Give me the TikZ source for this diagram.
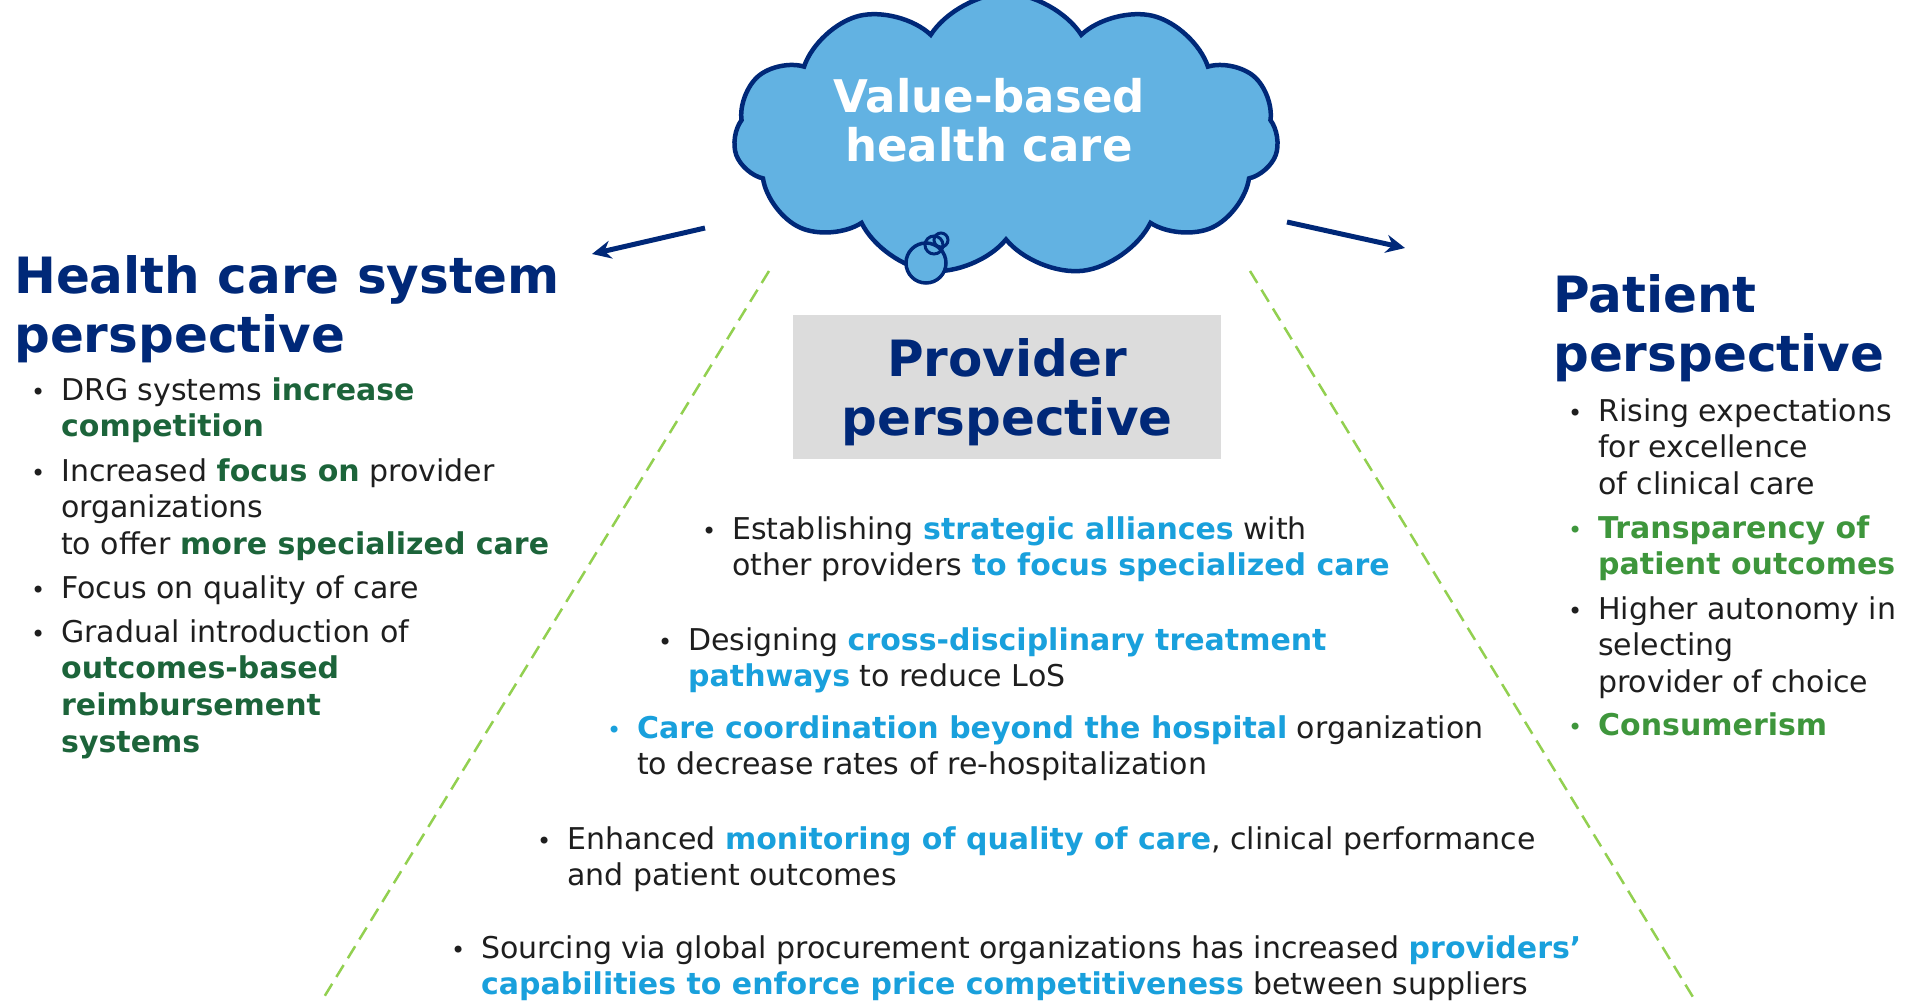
\documentclass[tikz,border=0pt]{standalone}
\usepackage{fontspec}
\setmainfont{DejaVu Sans}
\usetikzlibrary{shapes.symbols,arrows.meta}

\definecolor{navy}{RGB}{0,40,120}
\definecolor{bodytext}{RGB}{30,30,30}
\definecolor{sysgreen}{RGB}{28,100,58}
\definecolor{patgreen}{RGB}{62,150,60}
\definecolor{provblue}{RGB}{25,160,220}
\definecolor{cloudblue}{RGB}{98,178,226}
\definecolor{boxgray}{RGB}{220,220,220}
\definecolor{dashgreen}{RGB}{146,208,80}

\newcommand{\sysbold}[1]{\textcolor{sysgreen}{\textbf{#1}}}
\newcommand{\patbold}[1]{\textcolor{patgreen}{\textbf{#1}}}
\newcommand{\provbold}[1]{\textcolor{provblue}{\textbf{#1}}}
\newcommand{\bitem}[2][bodytext]{\begin{tabular}[t]{@{}p{30pt}@{}l@{}}\textcolor{#1}{\fontsize{24}{24}\selectfont\textbullet}&#2\end{tabular}}
\newcommand{\twoline}[3][l]{\begin{tabular}[t]{@{}#1@{}}#2\\#3\end{tabular}}

\begin{document}
\begin{tikzpicture}[x=1pt, y=-1pt,
    heading/.style={anchor=north west, inner sep=0pt, text=navy, font=\fontsize{50}{59}\selectfont\bfseries},
    bullets/.style={anchor=north west, inner sep=0pt, text=bodytext, font=\fontsize{30}{36.6}\selectfont},
    greendash/.style={dashgreen, line width=2.5pt, dash pattern=on 14pt off 8pt},
    navyarrow/.style={navy, line width=5pt, -{Stealth[length=19pt,width=18pt]}}]

    \useasboundingbox (0,0) rectangle (1913,1002);

    \coordinate (DL0) at (769,271);
    \coordinate (DL1) at (321,1002);
    \coordinate (DR0) at (1250,271);
    \coordinate (DR1) at (1696,1002);

    \coordinate (AL0) at (705,228);
    \coordinate (AL1) at (592,254);
    \coordinate (AR0) at (1287,222);
    \coordinate (AR1) at (1405,248);

    \draw[greendash] (DL0) -- (DL1);
    \draw[greendash] (DR0) -- (DR1);

    \draw[navyarrow] (AL0) -- (AL1);
    \draw[navyarrow] (AR0) -- (AR1);

    % value-based cloud
    \node[cloud, cloud puffs=11, cloud puff arc=115, cloud ignores aspect,
          minimum width=545pt, minimum height=283pt, inner sep=0pt,
          draw=navy, line width=4.5pt, fill=cloudblue] (valueCloud) at (1006,135) {};
    \draw[navy, line width=3.5pt, fill=cloudblue] (926,263) circle (20);
    \draw[navy, line width=3pt] (934,245) circle (9);
    \draw[navy, line width=3pt] (941,240) circle (7);
    \node[anchor=north, inner sep=0pt, text=white, font=\fontsize{45}{48}\selectfont\bfseries]
        (valueText) at (989,78.4) {\twoline[c]{Value-based}{health care}};

    % health care system
    \node[heading] (sysHead) at (14,251.7) {\twoline{Health care system}{perspective}};
    \node[bullets] (sysDrg) at (31,374.4) {\bitem{DRG systems \sysbold{increase}\\ & \sysbold{competition}}};
    \node[bullets] (sysFocus) at (31,455.4) {\bitem{Increased \sysbold{focus on} provider\\ & organizations\\ & to offer \sysbold{more specialized care}}};
    \node[bullets] (sysQuality) at (31,572.4) {\bitem{Focus on quality of care}};
    \node[bullets] (sysReimb) at (31,616.4) {\bitem{Gradual introduction of\\ & \sysbold{outcomes-based}\\ & \sysbold{reimbursement}\\ & \sysbold{systems}}};

    % patient
    \node[heading] (patHead) at (1553,271) {\twoline{Patient}{perspective}};
    \node[bullets] (patExpect) at (1568,395.4) {\bitem{Rising expectations\\ & for excellence\\ & of clinical care}};
    \node[bullets] (patTransp) at (1568,512.4) {\bitem[patgreen]{\patbold{Transparency of}\\ & \patbold{patient outcomes}}};
    \node[bullets] (patAutonomy) at (1568,593.4) {\bitem{Higher autonomy in\\ & selecting\\ & provider of choice}};
    \node[bullets] (patConsumer) at (1568,709.4) {\bitem[patgreen]{\patbold{Consumerism}}};

    % provider
    \node[fill=boxgray, minimum width=428pt, minimum height=144pt, inner sep=0pt] (provBox) at (1007,387) {};
    \node[heading, anchor=north] (provHead) at (1007,335) {\twoline[c]{Provider}{perspective}};
    \node[bullets] (provAlliance) at (702,513.4) {\bitem{Establishing \provbold{strategic alliances} with\\ & other providers \provbold{to focus specialized care}}};
    \node[bullets] (provPathway) at (658,624.4) {\bitem{Designing \provbold{cross-disciplinary treatment}\\ & \provbold{pathways} to reduce LoS}};
    \node[bullets] (provCoord) at (607,712.4) {\bitem[provblue]{\provbold{Care coordination beyond the hospital} organization\\ & to decrease rates of re-hospitalization}};
    \node[bullets] (provMonitor) at (537,823.4) {\bitem{Enhanced \provbold{monitoring of quality of care}, clinical performance\\ & and patient outcomes}};
    \node[bullets] (provSourcing) at (451,932.4) {\bitem{Sourcing via global procurement organizations has increased \provbold{providers’}\\ & \provbold{capabilities to enforce price competitiveness} between suppliers}};

\end{tikzpicture}
\end{document}
